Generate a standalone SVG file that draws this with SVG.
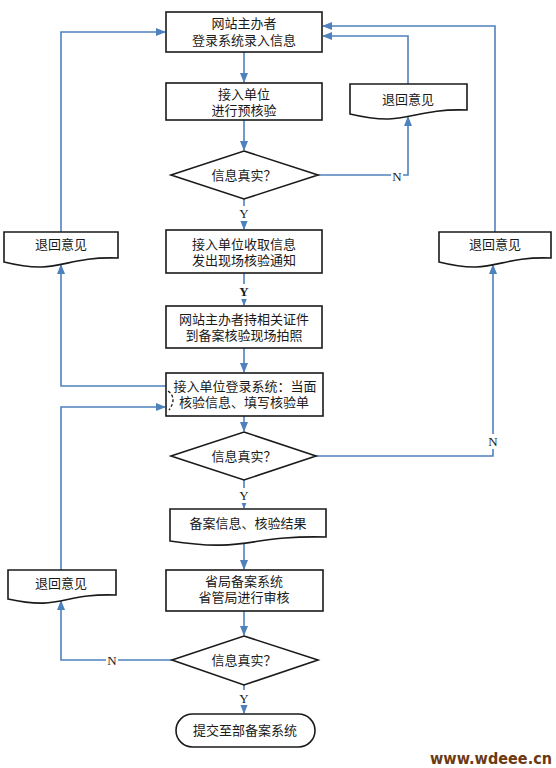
<svg xmlns="http://www.w3.org/2000/svg" width="556" height="768" viewBox="0 0 556 768">
<style>
.n{fill:#fff;stroke:#1a1a1a;stroke-width:1.6}
.t{font-family:"Liberation Serif","Noto Sans CJK SC",serif;font-size:13px;fill:#1a1a1a;text-anchor:middle;dominant-baseline:central}
.l{font-family:"Liberation Serif",serif;font-size:13px;fill:#1a1a1a;text-anchor:middle;dominant-baseline:central}
.c{fill:none;stroke:#4f81bd;stroke-width:1.6}
.lb{fill:#fff}
</style>
<defs>
<marker id="a" markerWidth="10" markerHeight="8" refX="9" refY="4" orient="auto" markerUnits="userSpaceOnUse">
<path d="M0,0 L10,4 L0,8 Z" fill="#4f81bd"/>
</marker>
</defs>
<rect width="556" height="768" fill="#fff"/>
<g id="connectors">
<path class="c" d="M244,52 V82" marker-end="url(#a)"/>
<path class="c" d="M244,120 V150" marker-end="url(#a)"/>
<path class="c" d="M244,199 V229" marker-end="url(#a)"/>
<path class="c" d="M244,273 V305" marker-end="url(#a)"/>
<path class="c" d="M244,348 V372" marker-end="url(#a)"/>
<path class="c" d="M244,416 V431" marker-end="url(#a)"/>
<path class="c" d="M244,480 V508" marker-end="url(#a)"/>
<path class="c" d="M244,543 V569" marker-end="url(#a)"/>
<path class="c" d="M244,611 V635" marker-end="url(#a)"/>
<path class="c" d="M244,685 V713" marker-end="url(#a)"/>
<path class="c" d="M318,175 H408 V117" marker-end="url(#a)"/>
<path class="c" d="M408,84 V36 H323" marker-end="url(#a)"/>
<path class="c" d="M495,232 V26 H323" marker-end="url(#a)"/>
<path class="c" d="M316,456 H493 V265" marker-end="url(#a)"/>
<path class="c" d="M61,232 V32 H165" marker-end="url(#a)"/>
<path class="c" d="M166,386 H61 V265" marker-end="url(#a)"/>
<path class="c" d="M61,570 V407 H165" marker-end="url(#a)"/>
<path class="c" d="M172,660 H61 V601" marker-end="url(#a)"/>
<rect class="lb" x="391" y="168" width="12" height="15"/>
<text class="l" x="397" y="176">N</text>
<rect class="lb" x="486" y="434" width="14" height="15"/>
<text class="l" x="493" y="441">N</text>
<rect class="lb" x="106" y="652" width="12" height="15"/>
<text class="l" x="112" y="660">N</text>
<rect class="lb" x="238" y="206" width="12" height="15"/>
<text class="l" x="244" y="213">Y</text>
<rect class="lb" x="238" y="284" width="12" height="15"/>
<text class="l" x="244" y="291" font-weight="bold">Y</text>
<rect class="lb" x="238" y="488" width="12" height="15"/>
<text class="l" x="244" y="495">Y</text>
<rect class="lb" x="238" y="690" width="12" height="15"/>
<text class="l" x="244" y="698">Y</text>
</g>
<g id="n1"><rect class="n" x="166" y="12" width="156" height="40"/><text class="t" x="244" y="23">网站主办者</text><text class="t" x="244" y="40">登录系统录入信息</text></g>
<g id="n2"><rect class="n" x="166" y="83" width="156" height="37"/><text class="t" x="244" y="94">接入单位</text><text class="t" x="244" y="110">进行预核验</text></g>
<g id="n3"><path class="n" d="M244,151 L318,175 L244,199 L171,175 Z"/><text class="t" x="244" y="175">信息真实？</text></g>
<g id="n4"><path class="n" d="M350,84 H467 V110 C409,108 409,128 350,114 Z"/><text class="t" x="408" y="99">退回意见</text></g>
<g id="n5"><rect class="n" x="166" y="230" width="156" height="43"/><text class="t" x="244" y="244">接入单位收取信息</text><text class="t" x="244" y="260">发出现场核验通知</text></g>
<g id="n6"><path class="n" d="M4,232 H118 V258 C61,256 61,276 4,262 Z"/><text class="t" x="61" y="244">退回意见</text></g>
<g id="n7"><path class="n" d="M439,232 H551 V258 C495,256 495,276 439,262 Z"/><text class="t" x="495" y="244">退回意见</text></g>
<g id="n8"><rect class="n" x="166" y="306" width="156" height="42"/><text class="t" x="244" y="319">网站主办者持相关证件</text><text class="t" x="244" y="335">到备案核验现场拍照</text></g>
<g id="n9"><rect class="n" x="166" y="373" width="157" height="43"/><text class="t" x="245" y="386">接入单位登录系统：当面</text><text class="t" x="244" y="402">核验信息、填写核验单</text><path d="M168,391 C174,395 175,402 169,410" fill="none" stroke="#1a1a1a" stroke-width="1.3" stroke-dasharray="3,2"/></g>
<g id="n10"><path class="n" d="M244,432 L316,456 L244,480 L171,456 Z"/><text class="t" x="244" y="456">信息真实？</text></g>
<g id="n11"><path class="n" d="M170,509 H326 V537 C248,535 248,553 170,541 Z"/><text class="t" x="248" y="523">备案信息、核验结果</text></g>
<g id="n12"><rect class="n" x="166" y="570" width="157" height="41"/><text class="t" x="244" y="581">省局备案系统</text><text class="t" x="244" y="597">省管局进行审核</text></g>
<g id="n13"><path class="n" d="M8,570 H116 V595 C62,593 62,611 8,599 Z"/><text class="t" x="61" y="583">退回意见</text></g>
<g id="n14"><path class="n" d="M244,636 L318,660 L244,685 L172,660 Z"/><text class="t" x="244" y="660">信息真实？</text></g>
<g id="n15"><rect class="n" x="176" y="714" width="139" height="33" rx="16.5"/><text class="t" x="245" y="730">提交至部备案系统</text></g>
<text x="430" y="764" font-family="DejaVu Sans" font-weight="bold" font-size="15" fill="#6b3a12" textLength="122" lengthAdjust="spacingAndGlyphs">www.wdeee.cn</text>
</svg>
